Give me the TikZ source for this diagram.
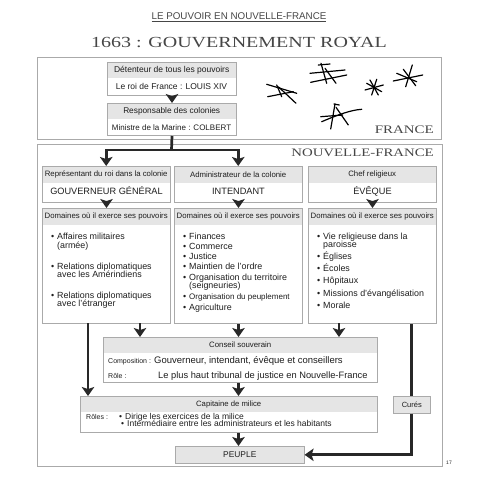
\documentclass[tikz,border=0pt]{standalone}
\usepackage{fontspec}
\setmainfont{Liberation Sans}
\newfontfamily\titlefont[FakeStretch=1.3]{Liberation Serif}
\usetikzlibrary{arrows.meta,positioning}
\definecolor{boxgray}{RGB}{170,170,170}
\definecolor{headgray}{RGB}{229,229,229}
\definecolor{arrowgray}{RGB}{40,40,40}
\definecolor{titlegray}{RGB}{70,70,70}
\definecolor{textgray}{RGB}{30,30,30}
\newcommand{\fs}[1]{\fontsize{#1}{#1}\selectfont}
\newcommand{\itm}{\llap{\textbullet\hspace{3pt}}}

\begin{document}
\begin{tikzpicture}[x=1pt, y=-1pt,
    frame/.style={draw=boxgray, line width=1pt, anchor=north west, inner sep=0pt},
    headbar/.style={fill=headgray, anchor=north west, inner sep=0pt, text=textgray},
    lbl/.style={inner sep=0pt, text=textgray},
    ln/.style={inner sep=0pt, anchor=west, text=textgray, text height=6.5pt, text depth=2pt},
    arr/.style={draw=arrowgray, line width=2.7pt, -{Stealth[width=12.5pt, length=9pt, inset=2pt]}},
    link/.style={draw=arrowgray, line width=2.7pt},
    scrib/.style={line width=1.2pt, line cap=round, black}]
  \useasboundingbox (0,0) rectangle (477,480);
  % Titles
  \node[lbl, font=\fs{9.8}, text=titlegray] (toptitle) at (239,17) {\underline{LE POUVOIR EN NOUVELLE-FRANCE}};
  \node[lbl, font=\titlefont\fs{15.4}, text=titlegray] (maintitle) at (239,43) {1663 : GOUVERNEMENT ROYAL};
  % France and Nouvelle-France frames
  \node[frame, minimum width=404pt, minimum height=82pt] (france) at (37,57) {};
  \node[frame, minimum width=405pt, minimum height=322pt] (nf) at (37,144) {};
  \node[lbl, font=\titlefont\fs{11.5}, text=titlegray, anchor=east] (francelbl) at (434,130) {FRANCE};
  \node[lbl, font=\titlefont\fs{11.4}, text=titlegray, anchor=east] (nflbl) at (434,153) {NOUVELLE-FRANCE};
  % King and minister
  \node[headbar, minimum width=129pt, minimum height=16pt, font=\fs{8.5}] (hroi) at (107,62) {Détenteur de tous les pouvoirs};
  \node[frame, minimum width=129pt, minimum height=33pt] (roi) at (107,62) {};
  \node[lbl, font=\fs{8.5}] (roitx) at (171.5,86.5) {Le roi de France : LOUIS XIV};
  \node[headbar, minimum width=129pt, minimum height=16pt, font=\fs{8.3}] (hcolb) at (107,103) {Responsable des colonies};
  \node[frame, minimum width=129pt, minimum height=32pt] (colb) at (107,103) {};
  \node[lbl, font=\fs{8}] (colbtx) at (171.5,127.5) {Ministre de la Marine : COLBERT};
  \draw[arr] (roi.south) -- (colb.north);
  % Stars (hand drawn)
  \draw[scrib] (266.7,84.3) -- (296.7,93.3);
  \draw[scrib] (267.7,96.7) -- (293.3,91.7);
  \draw[scrib] (278.3,86.7) -- (296,103.3);
  \draw[scrib] (276.7,85) -- (281.7,96.7);
  \draw[scrib] (310,73.3) -- (345,70);
  \draw[scrib] (310.7,82.3) -- (346.7,75);
  \draw[scrib] (321,63.3) -- (326.7,83.3);
  \draw[scrib] (325,68.3) -- (336,83.3);
  \draw[scrib] (318.3,65) -- (330,64);
  \draw[scrib] (365,90) -- (383.3,85);
  \draw[scrib] (370,80) -- (378.3,95);
  \draw[scrib] (376.7,79.3) -- (371.7,95);
  \draw[scrib] (366.7,83.3) -- (381.7,91.7);
  \draw[scrib] (393.3,81) -- (422.7,75);
  \draw[scrib] (403.3,69.3) -- (415.7,85.7);
  \draw[scrib] (412.3,65) -- (405.7,86.7);
  \draw[scrib] (396.7,73.3) -- (416.7,81.7);
  \draw[scrib] (321.7,121.7) .. controls (335,116) and (350,110) .. (361.7,109.3);
  \draw[scrib] (335,104) -- (330.7,129);
  \draw[scrib] (334,104) -- (339.3,105);
  \draw[scrib] (336,107.3) -- (348.3,125);
  \draw[scrib] (320.7,116.7) -- (342.7,115);
  % The three officers
  \foreach \nm/\xx/\hd/\ti in {gouv/42/Représentant du roi dans la colonie/GOUVERNEUR GÉNÉRAL,
      int/174/Administrateur de la colonie/INTENDANT,
      eve/308/Chef religieux/ÉVÊQUE}{
    \node[headbar, minimum width=128pt, minimum height=17pt, font=\fs{7.8}] (h\nm) at (\xx,166) {\hd};
    \node[frame, minimum width=128pt, minimum height=36pt] (\nm) at (\xx,166) {};
    \node[lbl, font=\fs{9.2}, anchor=base] (t\nm) at ([yshift=8.7pt]\nm.south) {\ti};
    \node[headbar, minimum width=128pt, minimum height=17pt, font=\fs{7.8}] (hd\nm) at (\xx,208) {Domaines où il exerce ses pouvoirs};
    \node[frame, minimum width=128pt, minimum height=115pt] (d\nm) at (\xx,208) {};
    \draw[arr] (\nm.south) -- (d\nm.north);
  }
  \coordinate (split) at (171.5,150);
  \draw[link] (colb.south) -- (split);
  \draw[arr] (split) -| (hgouv.north);
  \draw[arr] (split) -| (hint.north);
  % Domains
  \foreach \y/\t [count=\k] in {237/\itm Affaires militaires, 246/(armée),
      267/\itm Relations diplomatiques, 275.5/avec les Amérindiens,
      296/\itm Relations diplomatiques, 304.5/avec l'étranger}
    \node[ln, font=\fs{8.9}] (g\k) at (57,\y) {\t};
  \foreach \y/\t [count=\k] in {237/\itm Finances, 247/\itm Commerce, 257/\itm Justice,
      267/\itm Maintien de l'ordre, 278/\itm Organisation du territoire, 286.5/(seigneuries),
      297/\itm {\fs{8}Organisation du peuplement}, 308/\itm Agriculture}
    \node[ln, font=\fs{8.9}] (i\k) at (189,\y) {\t};
  \foreach \y/\t [count=\k] in {237/\itm Vie religieuse dans la, 245.5/paroisse, 257/\itm Églises,
      269/\itm Écoles, 281/\itm Hôpitaux, 294/\itm Missions d'évangélisation, 306/\itm Morale}
    \node[ln, font=\fs{8.9}] (e\k) at (323,\y) {\t};
  % Conseil souverain
  \node[headbar, minimum width=274pt, minimum height=16pt, font=\fs{7.8}] (hcons) at (103,337) {Conseil souverain};
  \node[frame, minimum width=274pt, minimum height=45pt] (cons) at (103,337) {};
  \node[ln, font=\fs{7}] (compo) at (108,361) {Composition :};
  \node[ln, font=\fs{9.5}] (compotx) at (154,361) {Gouverneur, intendant, évêque et conseillers};
  \node[ln, font=\fs{7}] (role) at (108,376) {Rôle :};
  \node[ln, font=\fs{9.3}] (roletx) at (158,376) {Le plus haut tribunal de justice en Nouvelle-France};
  \coordinate (c1) at (140,323);
  \coordinate (c3) at (339,323);
  \draw[arr] (c1) -- (c1 |- cons.north);
  \draw[arr] (dint.south) -- (dint.south |- cons.north);
  \draw[arr] (c3) -- (c3 |- cons.north);
  % Capitaine de milice
  \node[headbar, minimum width=297pt, minimum height=16pt, font=\fs{7.7}] (hcap) at (80,396) {Capitaine de milice};
  \node[frame, minimum width=297pt, minimum height=36pt] (cap) at (80,396) {};
  \node[ln, font=\fs{7}] (roles) at (86,417) {Rôles :};
  \node[ln, font=\fs{8.5}] (r1) at (125,417) {\itm Dirige les exercices de la milice};
  \node[ln, font=\fs{8.5}] (r2) at (127,424.5) {\itm Intermédiaire entre les administrateurs et les habitants};
  \coordinate (g0) at (88,323);
  \draw[arr] (g0) -- (g0 |- cap.north);
  \draw[arr] (cons.south -| dint.south) -- (cap.north -| dint.south);
  % Curés and people
  \node[fill=headgray, draw=boxgray, line width=0.6pt, inner sep=0pt, anchor=north west,
    minimum width=37pt, minimum height=17pt, font=\fs{7.5}, text=textgray] (cures) at (393,396) {Curés};
  \node[fill=headgray, draw=boxgray, line width=0.6pt, inner sep=0pt, anchor=north west,
    minimum width=129pt, minimum height=17pt, font=\fs{8.4}, text=textgray] (peuple) at (175,446) {PEUPLE};
  \draw[link] (cures.north |- deve.south) -- (cures.north);
  \draw[arr] (cures.south) |- (peuple.east);
  \draw[arr] (cap.south -| dint.south) -- (peuple.north -| dint.south);
  \node[lbl, font=\fs{5}] (pagenum) at (449,463) {17};
\end{tikzpicture}
\end{document}
